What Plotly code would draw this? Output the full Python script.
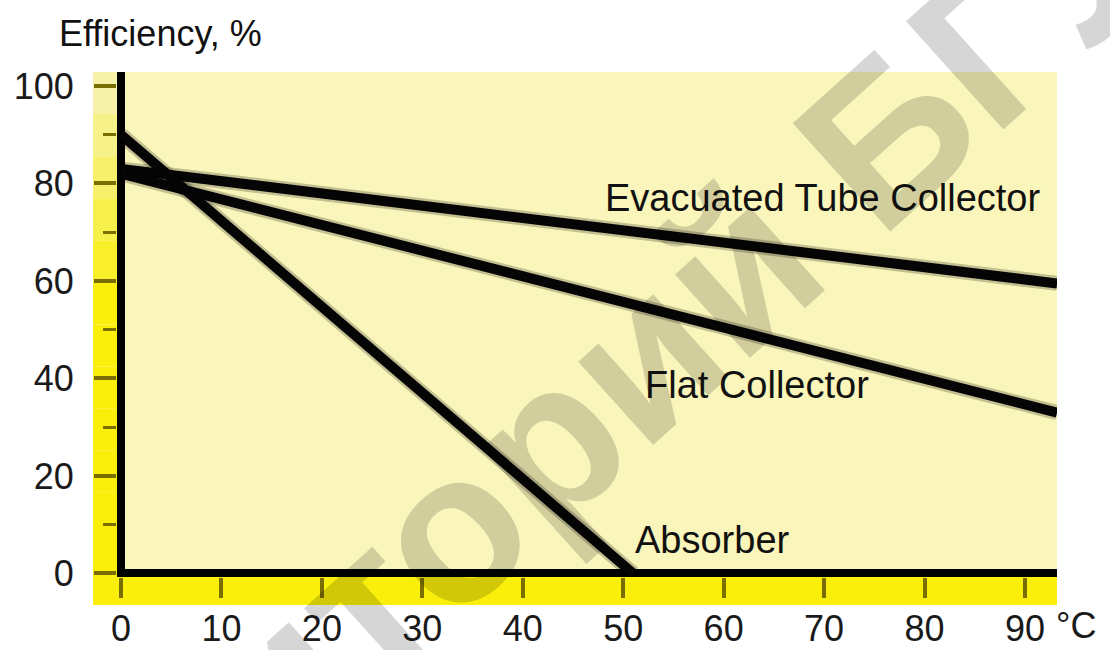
import plotly.graph_objects as go

# Collector efficiency vs. temperature difference
series_names = ["Evacuated Tube Collector", "Flat Collector", "Absorber"]
temps_evacuated = [0, 93.2]
eff_evacuated = [83, 59.5]
temps_flat = [0, 93.2]
eff_flat = [82, 33]
temps_absorber = [0, 51]
eff_absorber = [90, 0]

x_tick_vals = [0, 10, 20, 30, 40, 50, 60, 70, 80, 90]
x_tick_text = ["0", "10", "20", "30", "40", "50", "60", "70", "80", "90"]
y_tick_vals = [0, 20, 40, 60, 80, 100]

# label anchor points (temperature, efficiency)
label_pos = {
    "Evacuated Tube Collector": (69.8, 77.0),
    "Flat Collector": (63.3, 38.7),
    "Absorber": (58.9, 6.9),
}

PALE = "#faf5ba"
BRIGHT = "#f9ef0a"
TICK = "#7a6e00"
FONT = "Liberation Sans, Arial, sans-serif"

fig = go.Figure()

for name, xs, ys in [
    (series_names[0], temps_evacuated, eff_evacuated),
    (series_names[1], temps_flat, eff_flat),
    (series_names[2], temps_absorber, eff_absorber),
]:
    # soft halo under each line
    fig.add_trace(go.Scatter(x=xs, y=ys, mode="lines", showlegend=False,
                             hoverinfo="skip",
                             line=dict(color="rgba(0,0,0,0.22)", width=15)))
    fig.add_trace(go.Scatter(x=xs, y=ys, mode="lines", name=name,
                             showlegend=False,
                             line=dict(color="#050505", width=10)))

for name, (tx, ty) in label_pos.items():
    fig.add_annotation(x=tx, y=ty, text=name, showarrow=False,
                       xanchor="center", yanchor="middle",
                       font=dict(family=FONT, size=38, color="#111111"))

# bright yellow strips behind the tick marks
bands = 12
for i in range(bands):
    frac = i / (bands - 1)
    y0 = 1 - i / bands
    y1 = 1 - (i + 1) / bands
    t = min(1.0, frac * 2.2)
    r = int(247 + (249 - 247) * t)
    g = int(242 + (239 - 242) * t)
    b = int(170 + (10 - 170) * t)
    fig.add_shape(type="rect", xref="paper", yref="paper",
                  x0=-0.0255, x1=0, y0=y1, y1=y0,
                  fillcolor=f"rgb({r},{g},{b})", line_width=0, layer="below")
fig.add_shape(type="rect", xref="paper", yref="paper",
              x0=-0.0255, x1=1, y0=-0.0554, y1=0,
              fillcolor=BRIGHT, line_width=0, layer="below")

fig.add_annotation(xref="paper", yref="paper", x=-0.0638, y=1.077,
                   text="Efficiency, %", showarrow=False,
                   xanchor="left", yanchor="middle",
                   font=dict(family=FONT, size=36, color="#111111"))
fig.add_annotation(xref="paper", yref="paper", x=0.997, y=-0.097,
                   text="°C", showarrow=False,
                   xanchor="left", yanchor="middle",
                   font=dict(family=FONT, size=36, color="#1a1a1a"))

# watermark
fig.add_annotation(xref="paper", yref="paper", x=0.357, y=0.10,
                   text="<b>Репозиторий БГУ</b>", showarrow=False,
                   textangle=-42, xanchor="center", yanchor="middle",
                   font=dict(family=FONT, size=212, color="rgba(0,0,0,0.16)"))

fig.update_layout(
    width=1110, height=650,
    margin=dict(l=117, r=53, t=72, b=73, autoexpand=False),
    paper_bgcolor="white",
    plot_bgcolor=PALE,
    showlegend=False,
    font=dict(family=FONT, size=36, color="#1a1a1a"),
)

fig.update_xaxes(
    range=[-0.398, 93.19], showgrid=False, showline=False,
    zeroline=True, zerolinecolor="#000000", zerolinewidth=8,
    tickmode="array", tickvals=x_tick_vals, ticktext=x_tick_text,
    ticks="outside", ticklen=20, tickwidth=4, tickcolor=TICK,
    ticklabelstandoff=0,
    tickfont=dict(family=FONT, size=36, color="#1a1a1a"),
)
fig.update_yaxes(
    range=[-0.72, 102.87], showgrid=False, showline=False,
    zeroline=True, zerolinecolor="#000000", zerolinewidth=8,
    tickmode="array", tickvals=y_tick_vals,
    ticks="outside", ticklen=22, tickwidth=4, tickcolor=TICK,
    minor=dict(dtick=10, tick0=0, ticks="outside", ticklen=13,
               tickwidth=3, tickcolor=TICK, showgrid=False),
    ticklabelstandoff=13,
    tickfont=dict(family=FONT, size=36, color="#1a1a1a"),
)

fig.write_html("out.html")
